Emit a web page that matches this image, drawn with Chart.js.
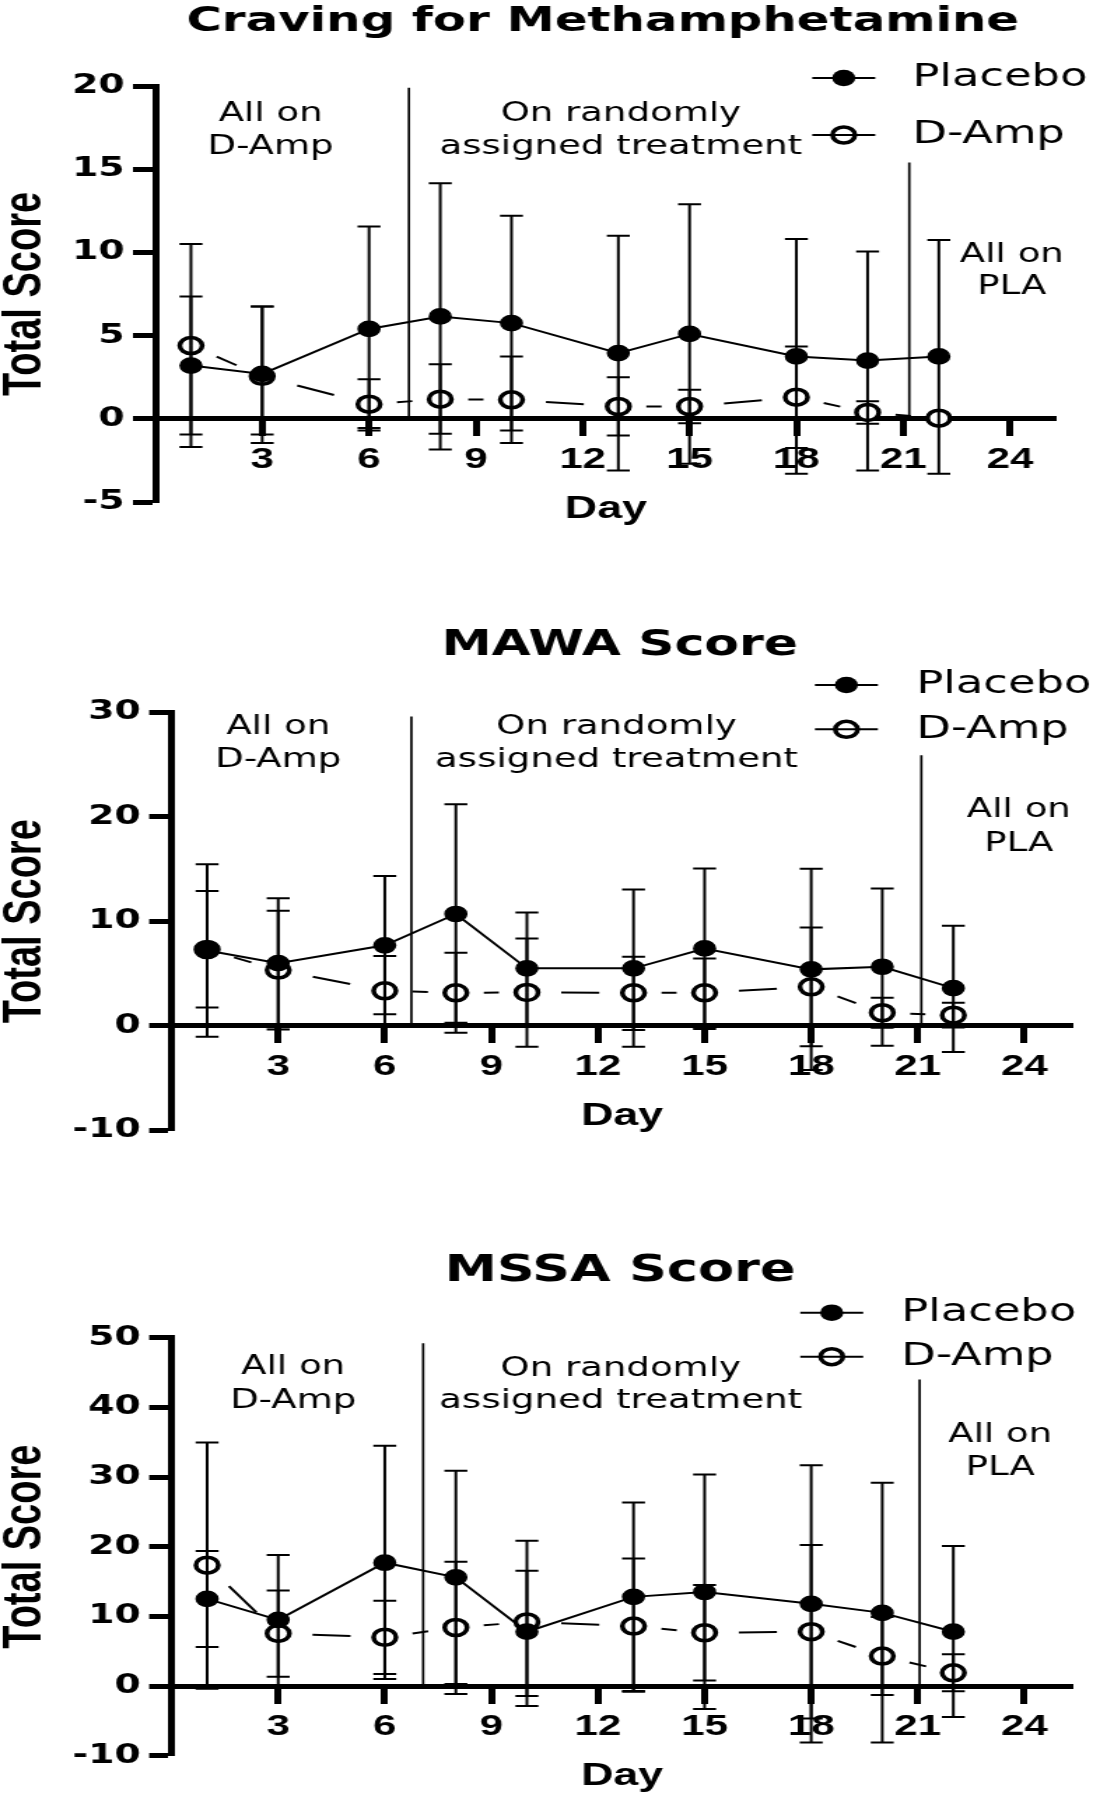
<!DOCTYPE html>
<html>
<head>
<meta charset="utf-8">
<script src="https://cdn.jsdelivr.net/npm/chart.js@4.4.0/dist/chart.umd.min.js"></script>
<style>
  html, body { margin: 0; padding: 0; background: #fff; }
  body { width: 1093px; height: 1800px; position: relative; overflow: hidden; }
  .panel { position: absolute; left: 0; width: 781px; transform-origin: 0 0; transform: scaleX(1.39949); }
</style>
</head>
<body>
<div class="panel" style="top:0;height:580px"><canvas id="craving" width="781" height="580"></canvas></div>
<div class="panel" style="top:580px;height:620px"><canvas id="mawa" width="781" height="620"></canvas></div>
<div class="panel" style="top:1200px;height:600px"><canvas id="mssa" width="781" height="600"></canvas></div>
<script>
// study days and axis ticks
const days = [1, 3, 6, 8, 10, 13, 15, 18, 20, 22];
const dayTicks = [3, 6, 9, 12, 15, 18, 21, 24];
const seriesNames = ["Placebo", "D-Amp"];
const phaseText = [["All on", "D-Amp"], ["On randomly", "assigned treatment"], ["All on", "PLA"]];

// Craving for Methamphetamine
const cravingTicks = [-5, 0, 5, 10, 15, 20];
const cravingPlacebo = [3.2, 2.7, 5.4, 6.15, 5.75, 3.95, 5.1, 3.75, 3.5, 3.75];
const cravingPlaceboHigh = [7.35, 6.75, 11.55, 14.15, 12.2, 11.0, 12.9, 10.8, 10.05, 10.75];
const cravingPlaceboLow = [-0.95, -1.45, -0.7, -1.85, -0.7, -3.1, -2.7, -3.3, -3.1, -3.3];
const cravingDamp = [4.4, 2.55, 0.88, 1.18, 1.14, 0.74, 0.74, 1.3, 0.38, 0.04];
const cravingDampHigh = [10.5, 6.75, 2.38, 3.28, 3.74, 2.5, 1.74, 4.35, 1.05, null];
const cravingDampLow = [-1.7, -0.95, -0.55, -0.9, -1.46, -1.0, -0.26, -1.75, -0.3, null];
const cravingPhaseLines = [[7.12, 19.9], [21.17, 15.4]];

// MAWA Score
const mawaTicks = [-10, 0, 10, 20, 30];
const mawaPlacebo = [7.2, 6.0, 7.7, 10.7, 5.5, 5.5, 7.4, 5.4, 5.65, 3.6];
const mawaPlaceboHigh = [15.45, 12.2, 14.33, 21.2, 10.85, 13.05, 15.06, 15.03, 13.15, 9.57];
const mawaPlaceboLow = [-1.05, -0.15, 1.1, 0.3, 0.15, -2.0, -0.3, -4.24, -1.9, -2.5];
const mawaDamp = [7.3, 5.33, 3.35, 3.16, 3.19, 3.16, 3.16, 3.73, 1.25, 1.02];
const mawaDampHigh = [12.9, 11.0, 6.67, 6.99, 8.36, 6.6, 6.45, 9.41, 2.68, 2.2];
const mawaDampLow = [1.76, -0.35, 0.03, -0.67, -2.0, -0.41, -0.13, -1.95, -0.18, -0.16];
const mawaPhaseLines = [[6.75, 29.6], [21.1, 25.9]];

// MSSA Score
const mssaTicks = [-10, 0, 10, 20, 30, 40, 50];
const mssaPlacebo = [12.5, 9.5, 17.7, 15.6, 7.8, 12.8, 13.5, 11.8, 10.5, 7.8];
const mssaPlaceboHigh = [19.4, 18.8, 34.5, 30.9, 16.54, 26.35, 30.37, 31.7, 29.17, 20.09];
const mssaPlaceboLow = [5.6, 0.15, 1.0, 0.3, -1.43, -0.7, -3.3, -8.1, -8.1, -4.45];
const mssaDamp = [17.35, 7.55, 7.0, 8.4, 9.2, 8.6, 7.65, 7.8, 4.3, 1.9];
const mssaDampHigh = [34.96, 13.7, 12.25, 17.85, 20.85, 18.32, 14.5, 20.23, 9.9, 4.55];
const mssaDampLow = [-0.4, 1.35, 1.72, -1.15, -2.87, -0.81, 0.8, -4.65, -1.3, -0.75];
const mssaPhaseLines = [[7.08, 49.2], [21.05, 44.0]];

// the source figure is stretched sideways, so each canvas is scaled with CSS
const STRETCH = 1093 / 781;
const W = 781;

// GraphPad style dashes: one centred dash per segment, leaving room round the symbols
function centredDash(ctx) {
  const dx = ctx.p1.x - ctx.p0.x, dy = ctx.p1.y - ctx.p0.y;
  const len = Math.hypot(dx, dy);
  const shown = Math.hypot(dx * STRETCH, dy);
  const dash = Math.min(shown - 56, 38) * len / shown;
  if (dash <= 0) return [0, len];
  const gap = (len - dash) / 2;
  return [0, gap, dash, gap];
}

function drawMarker(ctx, x, y, filled) {
  ctx.beginPath();
  if (filled) {
    ctx.arc(x, y, 8.3, 0, Math.PI * 2);
    ctx.fillStyle = "#000";
    ctx.fill();
  } else {
    ctx.arc(x, y, 8, 0, Math.PI * 2);
    ctx.fillStyle = "#fff";
    ctx.fill();
    ctx.lineWidth = 3.5;
    ctx.strokeStyle = "#000";
    ctx.stroke();
  }
}

const decor = {
  id: "decor",
  beforeDatasetsDraw(chart) {
    const g = chart.options.plugins.decor;
    const {ctx, scales: {x, y}} = chart;
    ctx.save();
    ctx.strokeStyle = "#000";
    ctx.lineWidth = 1.7;
    g.phaseLines.forEach(([day, top]) => {
      const px = x.getPixelForValue(day);
      ctx.beginPath();
      ctx.moveTo(px, y.getPixelForValue(top));
      ctx.lineTo(px, y.getPixelForValue(0));
      ctx.stroke();
    });
    ctx.restore();
  },
  afterDatasetsDraw(chart) {
    const {ctx, scales: {x, y}} = chart;
    ctx.save();
    ctx.strokeStyle = "#000";
    ctx.lineWidth = 2;
    chart.data.datasets.forEach(ds => {
      ds.data.forEach((pt, i) => {
        const px = x.getPixelForValue(pt.x);
        const py = y.getPixelForValue(pt.y);
        [ds.high[i], ds.low[i]].forEach(v => {
          if (v == null || v === pt.y) return;
          const pv = y.getPixelForValue(v);
          ctx.beginPath();
          ctx.moveTo(px, py);
          ctx.lineTo(px, pv);
          ctx.moveTo(px - 8.2, pv);
          ctx.lineTo(px + 8.2, pv);
          ctx.stroke();
        });
      });
    });
    ctx.restore();
  },
  afterDraw(chart) {
    const g = chart.options.plugins.decor;
    const ctx = chart.ctx;
    ctx.save();
    ctx.fillStyle = "#000";
    ctx.textBaseline = "middle";
    ctx.textAlign = "center";
    ctx.font = 'bold ' + g.titleSize + 'px "DejaVu Sans"';
    ctx.fillText(g.title, g.titleX, g.titleY);

    ctx.font = '26.5px "DejaVu Sans"';
    g.notes.forEach(([nx, rows], k) => {
      phaseText[k].forEach((t, r) => ctx.fillText(t, nx, rows[r]));
    });

    // legend: short line with the symbol on it
    chart.data.datasets.forEach((ds, i) => {
      const ly = g.legendRows[i];
      drawMarker(ctx, g.legendX, ly, i === 0);
      ctx.beginPath();
      ctx.lineWidth = 2;
      ctx.strokeStyle = "#000";
      ctx.moveTo(g.legendX - 22.5, ly);
      ctx.lineTo(g.legendX + 22.5, ly);
      ctx.stroke();
      ctx.fillStyle = "#000";
      ctx.textAlign = "left";
      ctx.font = '32px "DejaVu Sans"';
      ctx.fillText(ds.label, g.legendTextX, ly);
    });
    ctx.restore();
  }
};

function zeroPadding(s) {
  s.paddingLeft = 0; s.paddingRight = 0; s.paddingTop = 0; s.paddingBottom = 0;
}

function makePanel(id, title, yTicks, placebo, dampen, phaseLines, box) {
  new Chart(document.getElementById(id), {
    type: "line",
    data: {
      datasets: [
        {
          label: seriesNames[0],
          data: days.map((d, i) => ({ x: d, y: placebo[0][i] })),
          high: placebo[1], low: placebo[2],
          borderColor: "#000", borderWidth: 2, tension: 0,
          pointRadius: 7.6, pointBorderWidth: 1.5,
          pointBackgroundColor: "#000", pointBorderColor: "#000"
        },
        {
          label: seriesNames[1],
          data: days.map((d, i) => ({ x: d, y: dampen[0][i] })),
          high: dampen[1], low: dampen[2],
          borderColor: "#000", borderWidth: 2, tension: 0,
          pointRadius: 8, pointBorderWidth: 3.5,
          pointBackgroundColor: "#fff", pointBorderColor: "#000",
          segment: { borderDash: centredDash }
        }
      ]
    },
    options: {
      responsive: false,
      animation: false,
      events: [],
      layout: { padding: { left: 0, top: box.top, right: W - box.right, bottom: box.height - box.bottom } },
      plugins: {
        legend: { display: false },
        tooltip: { enabled: false },
        decor: {
          title: title, titleSize: box.titleSize, titleX: box.titleX, titleY: box.titleY,
          legendX: box.legendX, legendTextX: box.legendTextX, legendRows: box.legendRows,
          notes: box.notes, phaseLines: phaseLines
        }
      },
      scales: {
        x: {
          type: "linear", axis: "x",
          min: 0, max: box.xMax,
          position: { y: 0 },
          afterBuildTicks: s => { s.ticks = dayTicks.map(v => ({ value: v })); },
          afterFit: zeroPadding,
          grid: { drawOnChartArea: false, drawTicks: true, tickLength: 15, tickWidth: 5, tickColor: "#000" },
          border: { display: true, color: "#000", width: 5 },
          ticks: {
            color: "#000", padding: 8, autoSkip: false, maxRotation: 0,
            font: { family: "Liberation Sans", size: 30, weight: "bold" }
          },
          title: {
            display: true, text: "Day", color: "#000",
            font: { family: "Liberation Sans", size: 32, weight: "bold" },
            padding: { top: 4, bottom: 0 }
          }
        },
        y: {
          type: "linear",
          min: yTicks[0], max: yTicks[yTicks.length - 1],
          afterBuildTicks: s => { s.ticks = yTicks.map(v => ({ value: v })); },
          afterFit: s => { s.width = box.left; zeroPadding(s); },
          grid: { drawOnChartArea: false, drawTicks: true, tickLength: 16, tickWidth: 5, tickColor: "#000" },
          border: { display: true, color: "#000", width: 5 },
          ticks: {
            color: "#000", padding: 6,
            font: { family: "DejaVu Sans", size: 27, weight: "bold" }
          },
          title: {
            display: true, text: "Total Score", color: "#000",
            font: { family: "Liberation Sans", size: 38, weight: "bold", lineHeight: 1 },
            padding: 0
          }
        }
      }
    },
    plugins: [decor]
  });
}

makePanel("craving", "Craving for Methamphetamine", cravingTicks,
  [cravingPlacebo, cravingPlaceboHigh, cravingPlaceboLow],
  [cravingDamp, cravingDampHigh, cravingDampLow], cravingPhaseLines,
  { height: 580, left: 111, right: 754.8, top: 86, bottom: 502, xMax: 25.3,
    titleSize: 34.5, titleX: 430.7, titleY: 21.7, legendX: 602.9, legendTextX: 652, legendRows: [78, 135],
    notes: [[193.3, [114, 147.5]], [443.6, [114, 147.5]], [723, [255, 286.7]]] });

makePanel("mawa", "MAWA Score", mawaTicks,
  [mawaPlacebo, mawaPlaceboHigh, mawaPlaceboLow],
  [mawaDamp, mawaDampHigh, mawaDampLow], mawaPhaseLines,
  { height: 620, left: 122.6, right: 766.5, top: 132.3, bottom: 550.3, xMax: 25.36,
    titleSize: 36, titleX: 442.9, titleY: 66, legendX: 604.8, legendTextX: 654.8, legendRows: [105, 149.3],
    notes: [[198.8, [147, 180.5]], [440.5, [147, 180.5]], [728, [230.5, 263.8]]] });

makePanel("mssa", "MSSA Score", mssaTicks,
  [mssaPlacebo, mssaPlaceboHigh, mssaPlaceboLow],
  [mssaDamp, mssaDampHigh, mssaDampLow], mssaPhaseLines,
  { height: 600, left: 122.6, right: 766.5, top: 137.7, bottom: 555.7, xMax: 25.36,
    titleSize: 37.5, titleX: 443, titleY: 71, legendX: 594.3, legendTextX: 644, legendRows: [112.7, 156.7],
    notes: [[209.5, [167.5, 200.8]], [443.5, [169, 201]], [714.7, [235, 267.8]]] });
</script>
</body>
</html>
